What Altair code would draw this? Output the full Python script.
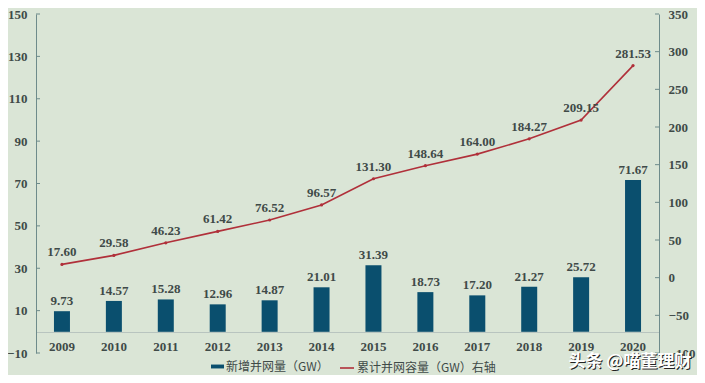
import altair as alt
import pandas as pd

years = [str(y) for y in range(2009, 2021)]
new_capacity = [9.73, 14.57, 15.28, 12.96, 14.87, 21.01, 31.39, 18.73, 17.20, 21.27, 25.72, 71.67]
cumulative = [17.60, 29.58, 46.23, 61.42, 76.52, 96.57, 131.30, 148.64, 164.00, 184.27, 209.15, 281.53]
left_ticks = [-10, 10, 30, 50, 70, 90, 110, 130, 150]
right_ticks = [-100, -50, 0, 50, 100, 150, 200, 250, 300, 350]
bar_name = "新增并网量（GW）"
line_name = "累计并网容量（GW）右轴"
watermark = "头条 @喵董理财"

BG = "#DAE5D6"
BAR = "#0A4F6E"
LINE = "#B0303A"
TXT = "#3F4A48"
AXIS = "#6E8B8B"
SERIF = "Liberation Serif, DejaVu Serif, serif"
CJK = "Noto Sans CJK SC"

df = pd.DataFrame({"year": years, "new": new_capacity, "cum": cumulative,
                   "bar_s": [bar_name] * len(years), "line_s": [line_name] * len(years)})
lt = pd.DataFrame({"v": left_ticks})
rt = pd.DataFrame({"v": right_ticks})

W, H = 623, 339

x = alt.X("year:N", title=None, sort=years,
          scale=alt.Scale(paddingInner=0.2, paddingOuter=0.1),
          axis=alt.Axis(orient="bottom", offset=-21, domainColor="#B8C4BF", domainWidth=1,
                        ticks=False, labelPadding=8, labelFont=SERIF, labelFontWeight="bold",
                        labelFontSize=13, labelColor=TXT, labelAngle=0))

lscale = alt.Scale(domain=[-10, 150], nice=False, zero=False)
rscale = alt.Scale(domain=[-100, 350], nice=False, zero=False)

laxis = alt.Axis(orient="left", values=left_ticks, tickSize=0, domainColor=AXIS, labelPadding=9,
                 labelFont=SERIF, labelFontWeight="bold", labelFontSize=13, labelColor=TXT,
                 labelOverlap=False, grid=False, title=None)
raxis = alt.Axis(orient="right", values=right_ticks, tickSize=0, domainColor=AXIS, labelPadding=9,
                 labelFont=SERIF, labelFontWeight="bold", labelFontSize=13, labelColor=TXT,
                 labelOverlap=False, labelBound=False, grid=False, title=None)

base = alt.Chart(df)

bars = base.mark_bar(size=16).encode(
    x=x,
    y=alt.Y("new:Q", scale=lscale, axis=laxis, title=None),
    fill=alt.Fill("bar_s:N", scale=alt.Scale(domain=[bar_name], range=[BAR]),
                  legend=alt.Legend(title=None, orient="none", legendX=175, legendY=346,
                                    symbolType="M-1,-0.3H1V0.3H-1Z", symbolSize=169,
                                    symbolStrokeWidth=0, labelOffset=2,
                                    labelFont=CJK, labelFontSize=12, labelColor=TXT)),
)
bar_text = base.mark_text(baseline="bottom", dy=-3, font=SERIF, fontWeight="bold",
                          fontSize=13, color=TXT).encode(
    x=x, y=alt.Y("new:Q", scale=lscale, axis=laxis, title=None),
    text=alt.Text("new:Q", format=".2f"))
lticks = alt.Chart(lt).mark_rule(color=AXIS).encode(
    y=alt.Y("v:Q", scale=lscale, axis=laxis, title=None), x=alt.value(0), x2=alt.value(4))

left_group = alt.layer(bars, bar_text, lticks)

line = base.mark_line(strokeWidth=1.6).encode(
    x=x,
    y=alt.Y("cum:Q", scale=rscale, axis=raxis, title=None),
    stroke=alt.Stroke("line_s:N", scale=alt.Scale(domain=[line_name], range=[LINE]),
                      legend=alt.Legend(title=None, orient="none", legendX=303, legendY=346,
                                        symbolType="stroke", symbolSize=196, symbolStrokeWidth=1.6,
                                        labelOffset=2,
                                        labelFont=CJK, labelFontSize=12, labelColor=TXT)),
)
pts = base.mark_point(filled=True, size=10, color=LINE, opacity=1).encode(
    x=x, y=alt.Y("cum:Q", scale=rscale, axis=raxis, title=None))
line_text = base.mark_text(baseline="bottom", dy=-5, font=SERIF, fontWeight="bold",
                           fontSize=13, color=TXT).encode(
    x=x, y=alt.Y("cum:Q", scale=rscale, axis=raxis, title=None),
    text=alt.Text("cum:Q", format=".2f"))
rticks = alt.Chart(rt).mark_rule(color=AXIS).encode(
    y=alt.Y("v:Q", scale=rscale, axis=raxis, title=None), x=alt.value(W - 4), x2=alt.value(W))

right_group = alt.layer(line, pts, line_text, rticks)

wm_df = pd.DataFrame({"t": [watermark]})
wm_shadow = alt.Chart(wm_df).mark_text(font=CJK, fontSize=17, fontWeight="bold", color="#222222",
                                       align="center", baseline="middle", dx=1, dy=1).encode(
    text="t:N", x=alt.value(594), y=alt.value(348))
wm = alt.Chart(wm_df).mark_text(font=CJK, fontSize=17, fontWeight="bold", color="#FFFFFF",
                                align="center", baseline="middle").encode(
    text="t:N", x=alt.value(594), y=alt.value(348))

chart = alt.layer(left_group, right_group, wm_shadow, wm).resolve_scale(
    y="independent", fill="independent", stroke="independent"
).properties(
    width=W, height=H,
    autosize=alt.AutoSizeParams(type="none"),
    padding={"left": 28, "top": 6, "right": 38, "bottom": 22},
    background=BG,
).configure_view(stroke=None)

chart.save("out.html", embed_options={"renderer": "svg", "actions": False})
